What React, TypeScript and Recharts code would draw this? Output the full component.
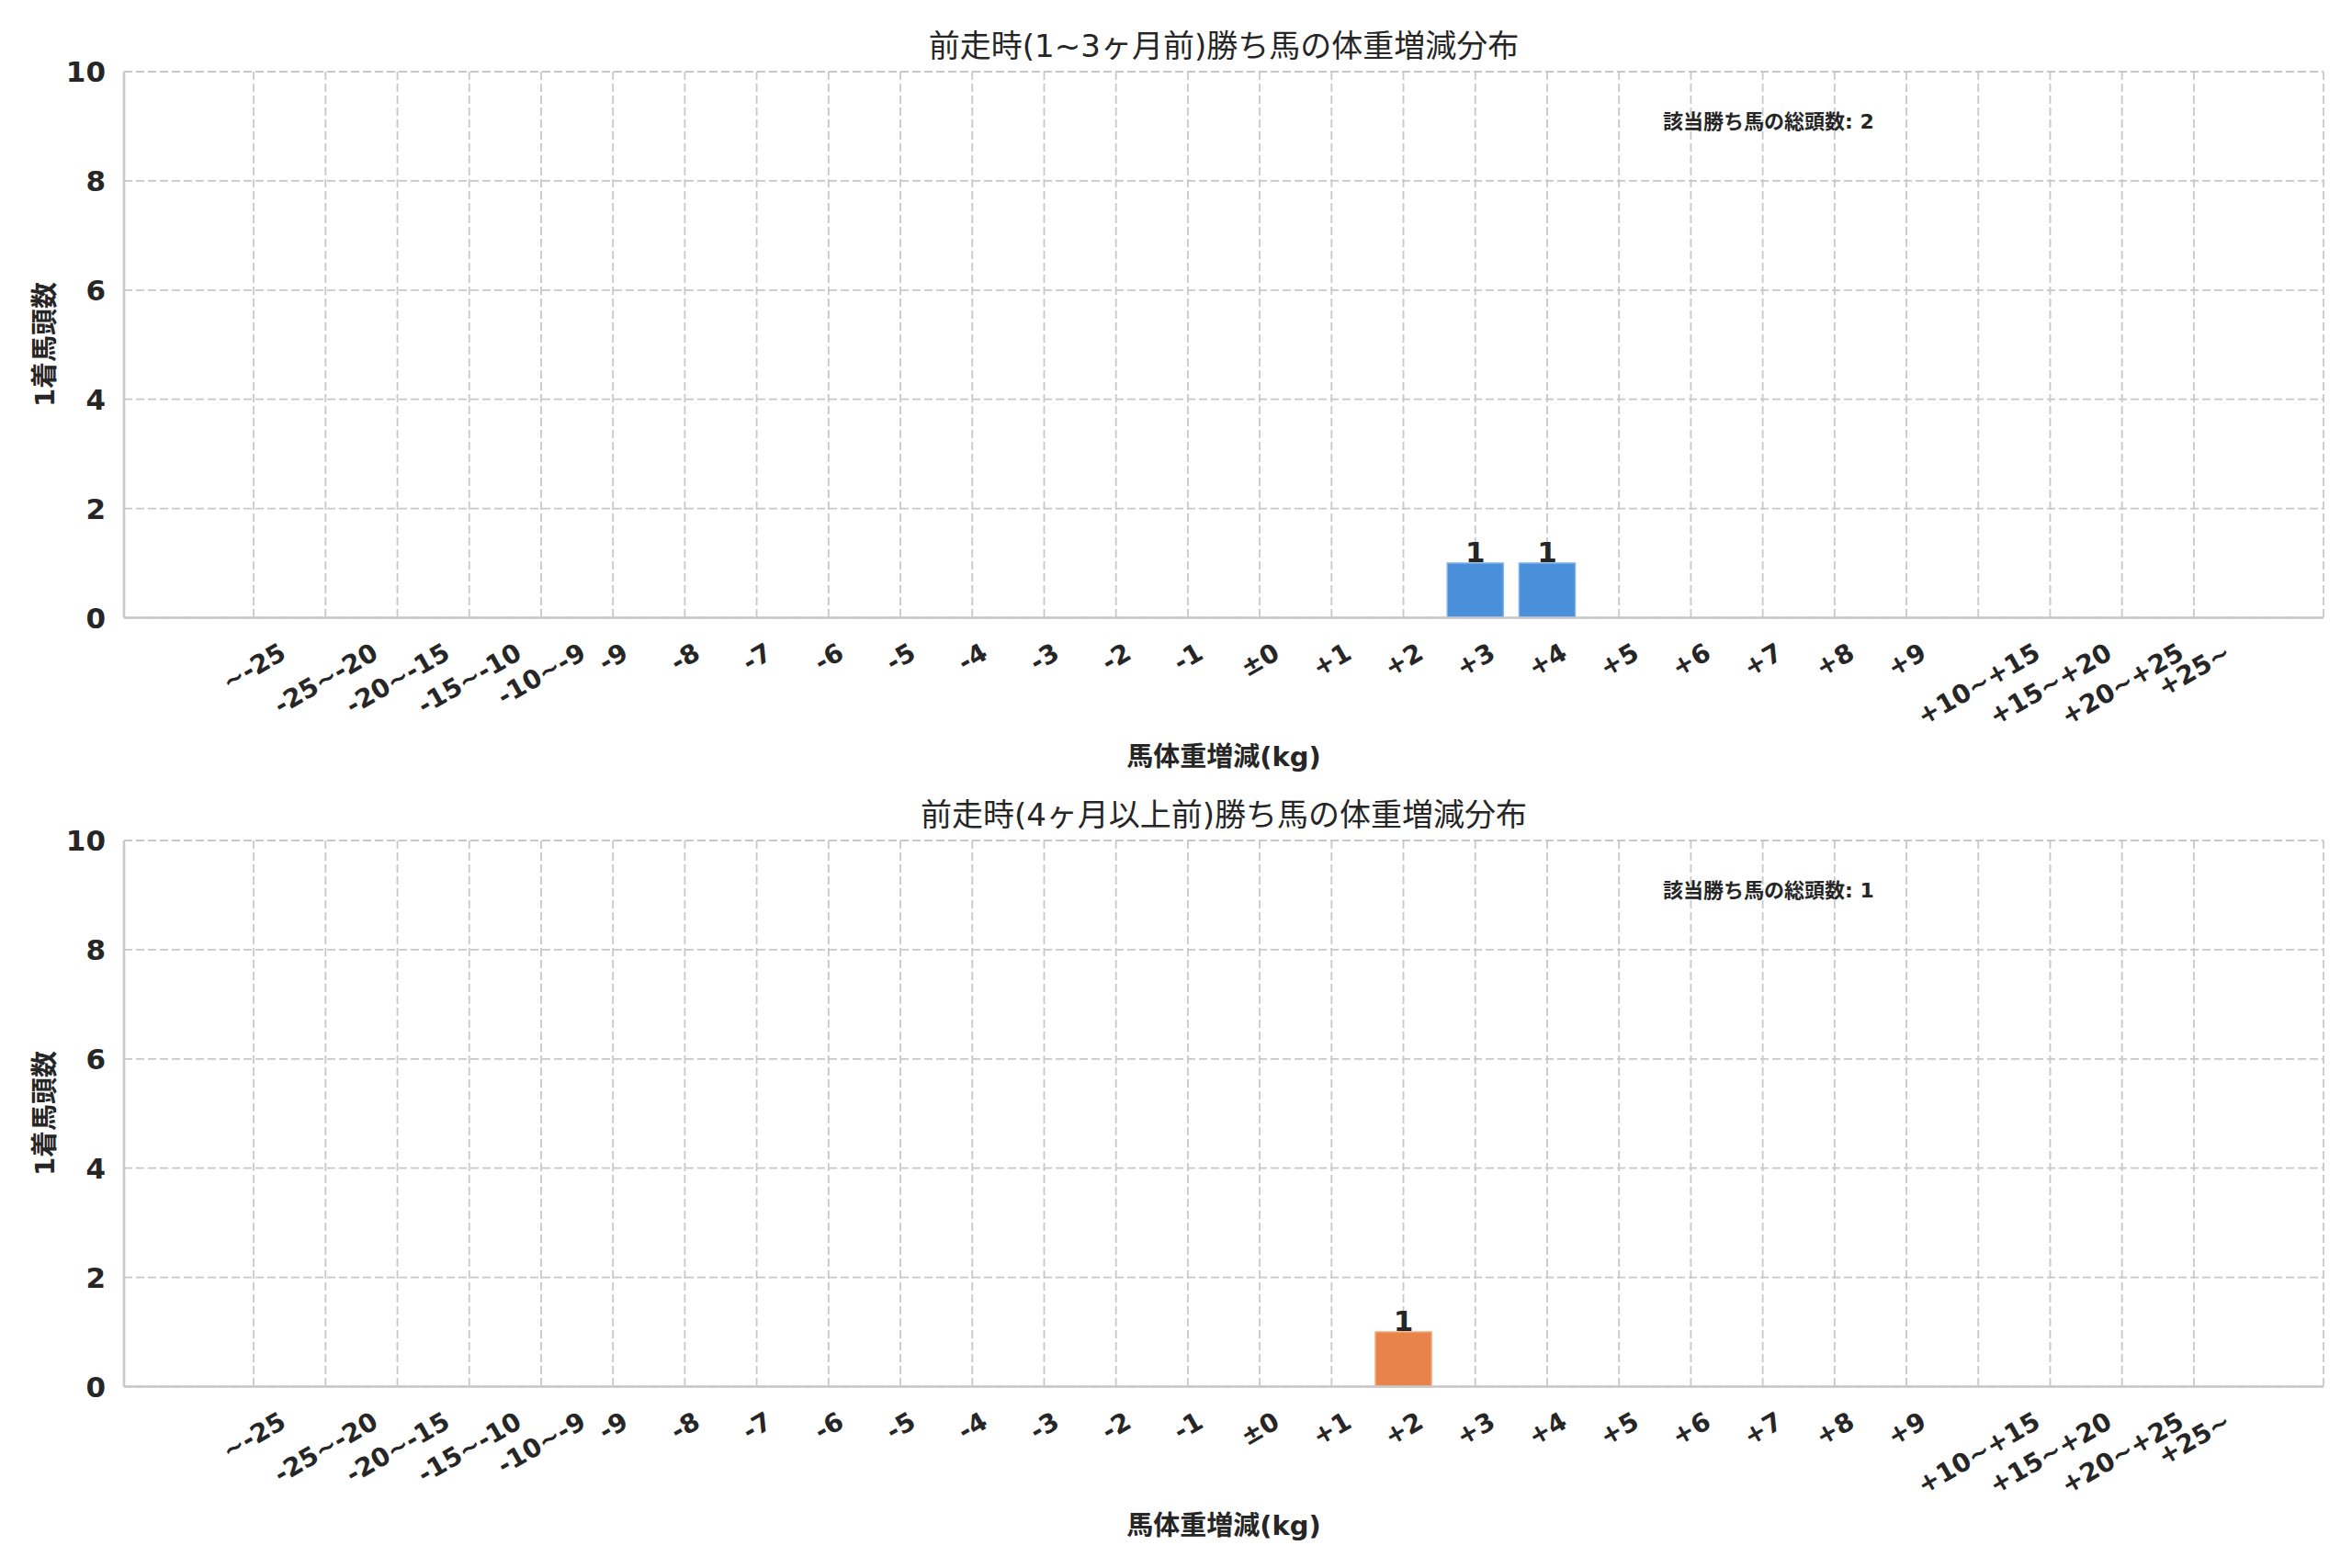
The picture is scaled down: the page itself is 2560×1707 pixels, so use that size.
import React from 'react';
import { BarChart, Bar, XAxis, YAxis, CartesianGrid, LabelList } from 'recharts';

const CATEGORIES = [
  '~-25', '-25~-20', '-20~-15', '-15~-10', '-10~-9',
  '-9', '-8', '-7', '-6', '-5', '-4', '-3', '-2', '-1',
  '±0',
  '+1', '+2', '+3', '+4', '+5', '+6', '+7', '+8', '+9',
  '+10~+15', '+15~+20', '+20~+25', '+25~',
];

// counts per category (top panel: 1~3 months, bottom panel: 4+ months)
const SHORT_COUNTS = [0, 0, 0, 0, 0, 0, 0, 0, 0, 0, 0, 0, 0, 0, 0, 0, 0, 1, 1, 0, 0, 0, 0, 0, 0, 0, 0, 0];
const LONG_COUNTS = [0, 0, 0, 0, 0, 0, 0, 0, 0, 0, 0, 0, 0, 0, 0, 0, 1, 0, 0, 0, 0, 0, 0, 0, 0, 0, 0, 0];

const Y_TICKS = [0, 2, 4, 6, 8, 10];
const Y_DOMAIN = [0, 10];

const TITLE_SHORT = '前走時(1~3ヶ月前)勝ち馬の体重増減分布';
const TITLE_LONG = '前走時(4ヶ月以上前)勝ち馬の体重増減分布';
const X_LABEL = '馬体重増減(kg)';
const Y_LABEL = '1着馬頭数';
const TOTAL_LABEL = '該当勝ち馬の総頭数';
const TOTAL_SHORT = 2;
const TOTAL_LONG = 1;

const FONT = '"DejaVu Sans", "Noto Sans CJK JP", sans-serif';
const TEXT = '#262626';
const GRID = '#c8c8c8';

let ctx: CanvasRenderingContext2D | null = null;
function textWidth(s: string, font: string): number {
  if (!ctx && typeof document !== 'undefined') {
    ctx = document.createElement('canvas').getContext('2d');
  }
  if (!ctx) return s.length * 15;
  ctx.font = font;
  return ctx.measureText(s).width;
}

const XTick = (props: any) => {
  const { x, y, payload } = props;
  const fs = 28;
  const label = String(payload.value);
  const w = textWidth(label, `bold ${fs}px "DejaVu Sans"`);
  const cy = y + 24 + (w * 0.5 + 0.73 * fs * 0.866) / 2;
  return (
    <text
      x={x}
      y={cy}
      dy={0.36 * fs}
      textAnchor="middle"
      transform={`rotate(-30, ${x}, ${cy})`}
      fontSize={fs}
      fontWeight="bold"
      fill={TEXT}
      fontFamily={FONT}
    >
      {label}
    </text>
  );
};

const CHART_W = 2560;
const CHART_H = 860;
const PLOT_LEFT = 135;
const PLOT_RIGHT = 2529;
const PLOT_TOP = 78;
const PLOT_H = 594.5;

function Panel(props: {
  top: number;
  counts: number[];
  color: string;
  edge: string;
  title: string;
  total: number;
}) {
  const { top, counts, color, edge, title, total } = props;
  const data = CATEGORIES.map((c, i) => ({ label: c, count: counts[i] }));
  const plotCenterY = PLOT_TOP + PLOT_H / 2;
  const axisStyle = { stroke: GRID, strokeWidth: 2.6 };
  return (
    <div style={{ position: 'absolute', left: 0, top, width: CHART_W, height: CHART_H }}>
      <BarChart
        width={CHART_W}
        height={CHART_H}
        data={data}
        margin={{ top: PLOT_TOP, right: CHART_W - PLOT_RIGHT, bottom: 0, left: 0 }}
        barCategoryGap="11%"
      >
        <CartesianGrid stroke={GRID} strokeDasharray="9 4" strokeWidth={1.8} />
        <XAxis
          dataKey="label"
          type="category"
          interval={0}
          padding={{ left: 102, right: 102 }}
          height={CHART_H - PLOT_TOP - PLOT_H}
          tickLine={false}
          tickSize={0}
          axisLine={axisStyle}
          tick={<XTick />}
        />
        <XAxis
          xAxisId="top"
          orientation="top"
          dataKey="label"
          type="category"
          interval={0}
          padding={{ left: 102, right: 102 }}
          height={0}
          tick={false}
          tickLine={false}
          axisLine={axisStyle}
        />
        <YAxis
          type="number"
          domain={Y_DOMAIN}
          ticks={Y_TICKS}
          width={PLOT_LEFT}
          tickLine={false}
          tickSize={0}
          tickMargin={20}
          axisLine={axisStyle}
          tick={{ fontSize: 31, fontWeight: 'bold', fill: TEXT, fontFamily: FONT }}
        />
        <YAxis
          yAxisId="right"
          orientation="right"
          type="number"
          domain={Y_DOMAIN}
          ticks={Y_TICKS}
          width={0}
          tick={false}
          tickLine={false}
          axisLine={axisStyle}
        />
        <Bar dataKey="count" fill={color} stroke={edge} strokeWidth={1.5} isAnimationActive={false}>
          <LabelList
            dataKey="count"
            position="top"
            offset={1}
            formatter={(v: any) => (Number(v) > 0 ? v : '')}
            style={{ fontSize: 31, fontWeight: 'bold', fill: TEXT, fontFamily: FONT }}
          />
        </Bar>
      </BarChart>

      <div
        style={{
          position: 'absolute',
          left: PLOT_LEFT,
          width: PLOT_RIGHT - PLOT_LEFT,
          top: 47 - 50,
          height: 100,
          display: 'flex',
          alignItems: 'center',
          justifyContent: 'center',
          fontFamily: FONT,
          fontSize: 34,
          color: TEXT,
          whiteSpace: 'nowrap',
        }}
      >
        {title}
      </div>

      <div
        style={{
          position: 'absolute',
          left: PLOT_LEFT,
          width: PLOT_RIGHT - PLOT_LEFT,
          top: 821 - 50,
          height: 100,
          display: 'flex',
          alignItems: 'center',
          justifyContent: 'center',
          fontFamily: FONT,
          fontSize: 29,
          fontWeight: 'bold',
          color: TEXT,
          whiteSpace: 'nowrap',
        }}
      >
        {X_LABEL}
      </div>

      <div
        style={{
          position: 'absolute',
          left: 49,
          top: plotCenterY,
          transform: 'translate(-50%, -50%) rotate(-90deg)',
          fontFamily: FONT,
          fontSize: 29,
          fontWeight: 'bold',
          color: TEXT,
          whiteSpace: 'nowrap',
          lineHeight: 1,
        }}
      >
        {Y_LABEL}
      </div>

      <div
        style={{
          position: 'absolute',
          left: 1810,
          top: 130 - 50,
          height: 100,
          display: 'flex',
          alignItems: 'center',
          fontFamily: FONT,
          fontSize: 22,
          fontWeight: 'bold',
          color: TEXT,
          whiteSpace: 'nowrap',
        }}
      >
        {`${TOTAL_LABEL}: ${total}`}
      </div>
    </div>
  );
}

export default function App() {
  return (
    <div style={{ position: 'absolute', left: 0, top: 0, width: 2560, height: 1707, background: '#ffffff' }}>
      <Panel top={0} counts={SHORT_COUNTS} color="#4a8fd9" edge="#80b1e8" title={TITLE_SHORT} total={TOTAL_SHORT} />
      <Panel top={837} counts={LONG_COUNTS} color="#e8834a" edge="#f2a97d" title={TITLE_LONG} total={TOTAL_LONG} />
    </div>
  );
}
